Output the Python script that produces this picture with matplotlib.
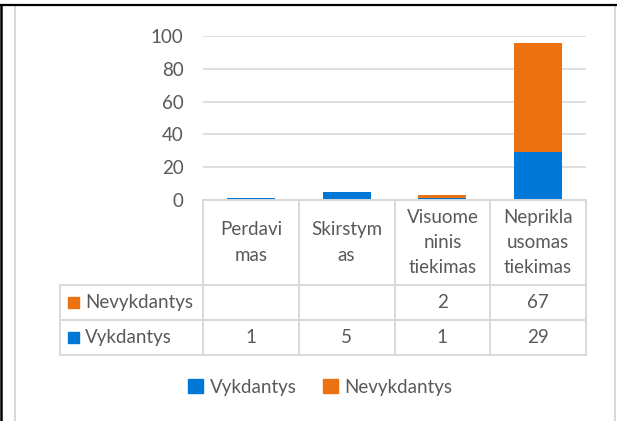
import matplotlib
matplotlib.use("Agg")
import matplotlib.pyplot as plt
from matplotlib.lines import Line2D
from matplotlib.patches import Patch, Rectangle

categories = ["Perdavi\nmas", "Skirstym\nas", "Visuome\nninis\ntiekimas", "Neprikla\nusomas\ntiekimas"]
vykdantys = [1, 5, 1, 29]
nevykdantys = [0, 0, 2, 67]
nevykdantys_labels = ["", "", "2", "67"]
vykdantys_labels = ["1", "5", "1", "29"]
series_names = ["Vykdantys", "Nevykdantys"]
yticks = [0, 20, 40, 60, 80, 100]

BLUE = "#0078D7"
ORANGE = "#EC7211"
TXT = "#595959"
GRID = "#D9D9D9"
FONT = "Lato"
FS = 13.5

W, H = 617, 421
fig = plt.figure(figsize=(W / 100, H / 100), dpi=100)
plt.rcParams['font.family'] = [FONT, 'DejaVu Sans']

def fx(px):
    return px / W

def fy(py):
    return 1 - py / H

# bar axes
ax = fig.add_axes([fx(203), fy(200), fx(586 - 203), (200 - 36) / H])
x = list(range(len(categories)))
ax.bar(x, vykdantys, width=0.5, color=BLUE, zorder=3)
ax.bar(x, nevykdantys, width=0.5, bottom=vykdantys, color=ORANGE, zorder=3)
ax.set_xlim(-0.5, 3.5)
ax.set_ylim(0, 100)
ax.set_yticks(yticks)
ax.set_yticklabels([str(v) for v in yticks], fontsize=FS, color=TXT)
ax.tick_params(axis='y', length=0, pad=14)
ax.set_xticks([])
for s in ax.spines.values():
    s.set_visible(False)
ax.grid(axis='y', color=GRID, lw=1.2, zorder=0)
ax.set_axisbelow(True)

# table axes (shares x with bar axes)
tax = fig.add_axes([fx(203), fy(355), fx(586 - 203), 155 / H], sharex=ax)
tax.set_ylim(155, 0)
tax.axis('off')
unit = (586 - 203) / 4.0
left = -0.5 - (203 - 60) / unit
lkw = dict(color=GRID, lw=1.4, clip_on=False, solid_capstyle='projecting')
tax.plot([-0.5, 3.5], [0, 0], **lkw)
for yy in (85, 120, 155):
    tax.plot([left, 3.5], [yy, yy], **lkw)
for xx in (-0.5, 0.5, 1.5, 2.5, 3.5):
    tax.plot([xx, xx], [0, 155], **lkw)
tax.plot([left, left], [85, 155], **lkw)

for i, c in enumerate(categories):
    tax.text(i, 42.5, c, ha='center', va='center', fontsize=FS, color=TXT,
             linespacing=1.6, clip_on=False)
    tax.text(i, 102.5, nevykdantys_labels[i], ha='center', va='center', fontsize=FS, color=TXT)
    tax.text(i, 137.5, vykdantys_labels[i], ha='center', va='center', fontsize=FS, color=TXT)

# row labels with legend keys
for yy, name, col in ((102.5, series_names[1], ORANGE), (137.5, series_names[0], BLUE)):
    fig.patches.append(Rectangle((fx(68), fy(yy + 200 + 5.5)), fx(11), 11 / H,
                                 transform=fig.transFigure, color=col))
    fig.text(fx(85), fy(yy + 200), name, ha='left', va='center', fontsize=FS, color=TXT)

# legend
handles = [Patch(color=BLUE), Patch(color=ORANGE)]
fig.legend(handles, series_names, loc='center', bbox_to_anchor=(fx(320), fy(387)),
           ncol=2, frameon=False, fontsize=FS, labelcolor=TXT,
           handlelength=0.8, handleheight=0.8, handletextpad=0.35, columnspacing=1.4)

# outer borders
fig.add_artist(Line2D([fx(15), fx(15)], [fy(5), 0], color=GRID, lw=1.5))
fig.add_artist(Line2D([fx(614.5), fx(614.5)], [fy(5), 0], color=GRID, lw=1.5))
fig.add_artist(Line2D([0, fx(616)], [fy(5), fy(5)], color='black', lw=1.6))
fig.add_artist(Line2D([fx(1.2), fx(1.2)], [fy(5), 0], color='black', lw=1.8))

fig.savefig("out.png", dpi=100)
